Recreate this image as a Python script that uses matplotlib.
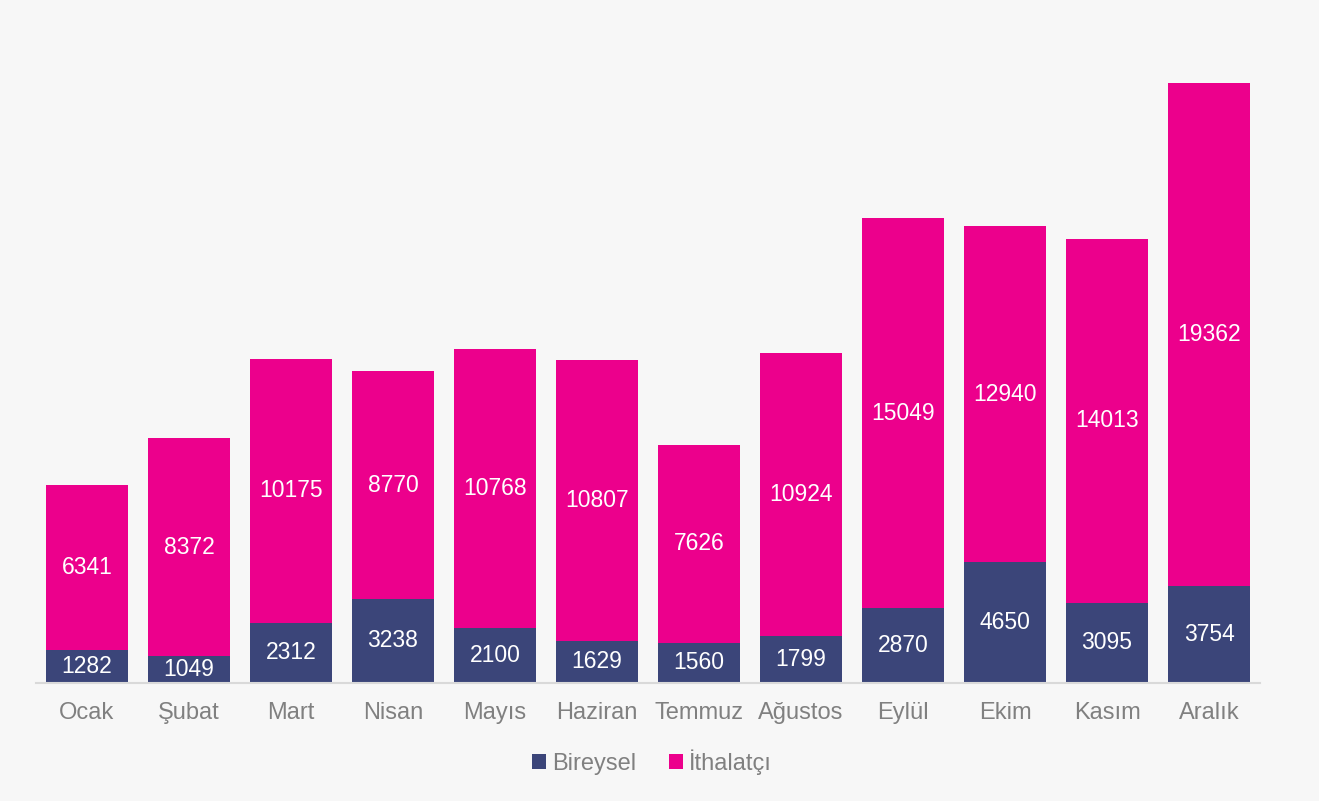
import matplotlib
matplotlib.use("Agg")
import matplotlib.pyplot as plt
import numpy as np

months = ["Ocak", "Şubat", "Mart", "Nisan", "Mayıs", "Haziran", "Temmuz",
          "Ağustos", "Eylül", "Ekim", "Kasım", "Aralık"]
bireysel = [1282, 1049, 2312, 3238, 2100, 1629, 1560, 1799, 2870, 4650, 3095, 3754]
ithalatci = [6341, 8372, 10175, 8770, 10768, 10807, 7626, 10924, 15049, 12940, 14013, 19362]

plt.rcParams['font.family'] = ['Liberation Sans', 'DejaVu Sans']

W, H = 1319, 801
fig = plt.figure(figsize=(W / 100, H / 100), dpi=100, facecolor="#f7f7f7")
ax = fig.add_axes([36 / W, 118 / H, (1260 - 36) / W, 649 / H])
ax.set_facecolor("#f7f7f7")

blue = "#3b4579"
pink = "#ec008c"
x = np.arange(len(months))
b1 = ax.bar(x, bireysel, width=0.8, color=blue, label="Bireysel", zorder=2)
b2 = ax.bar(x, ithalatci, width=0.8, bottom=bireysel, color=pink, label="İthalatçı", zorder=2)

for i in range(len(months)):
    ax.text(x[i], bireysel[i] / 2, str(bireysel[i]), ha="center", va="center",
            color="white", fontsize=16.5, zorder=3)
    ax.text(x[i], bireysel[i] + ithalatci[i] / 2, str(ithalatci[i]), ha="center",
            va="center", color="white", fontsize=16.5, zorder=3)

ax.set_xlim(-0.5, len(months) - 0.5)
ax.set_ylim(0, 25000)
ax.set_xticks(x)
ax.set_xticklabels(months, fontsize=17, color="#808080")
ax.tick_params(axis="x", length=0, pad=14)
ax.set_yticks([])
for s in ["top", "right", "left"]:
    ax.spines[s].set_visible(False)
ax.spines["bottom"].set_color("#d9d9d9")
ax.spines["bottom"].set_linewidth(1.5)

leg = fig.legend(handles=[b1, b2], labels=["Bireysel", "İthalatçı"],
                 loc="center", bbox_to_anchor=(652 / W, 1 - 762 / H), ncol=2,
                 frameon=False, fontsize=17, handlelength=0.6, handleheight=0.6,
                 handletextpad=0.25, columnspacing=1.4)
for t in leg.get_texts():
    t.set_color("#808080")

fig.savefig("out.png", dpi=100, facecolor=fig.get_facecolor())
